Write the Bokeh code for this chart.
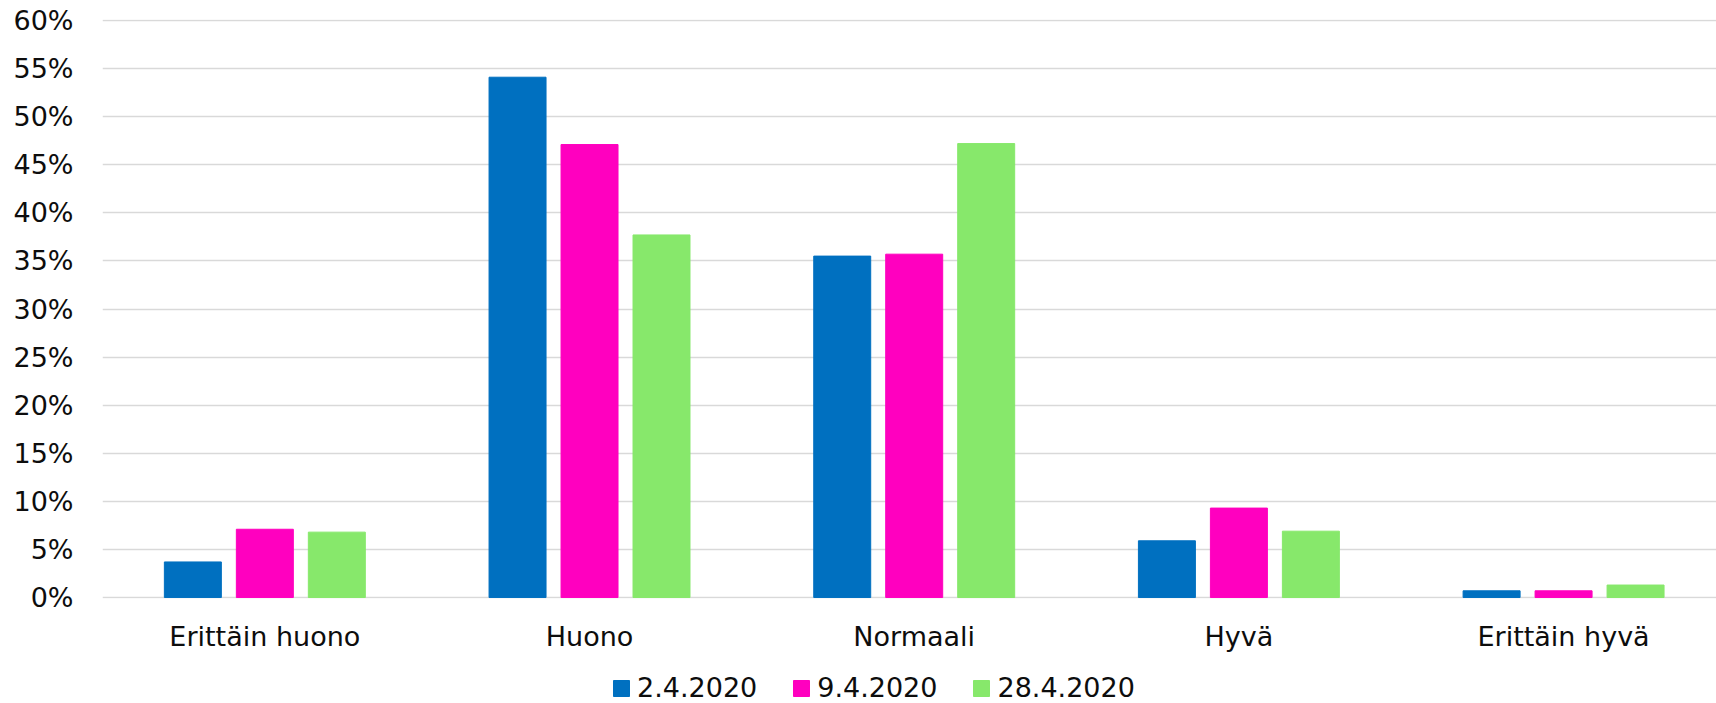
from bokeh.plotting import figure
from bokeh.layouts import column
from bokeh.models import Range1d, FixedTicker, PrintfTickFormatter, Legend, LegendItem, ColumnDataSource
from bokeh.embed import file_html
from bokeh.resources import INLINE

categories = ["Erittäin huono", "Huono", "Normaali", "Hyvä", "Erittäin hyvä"]
series_names = ["2.4.2020", "9.4.2020", "28.4.2020"]
s_0204 = [3.7, 54.1, 35.5, 5.9, 0.7]
s_0904 = [7.1, 47.1, 35.7, 9.3, 0.7]
s_2804 = [6.8, 37.7, 47.2, 6.9, 1.3]
colors = ["#0070C0", "#FF00BF", "#87E86B"]
y_ticks = [0, 5, 10, 15, 20, 25, 30, 35, 40, 45, 50, 55, 60]

FONT = "DejaVu Sans"
FS = "27px"
W = 1716
H_MAIN = 660
H_LEG = 43

p = figure(width=W, height=H_MAIN, output_backend="svg", toolbar_location=None,
           x_range=Range1d(-0.5, 4.471), y_range=Range1d(-0.1, 60.1),
           min_border_left=102, min_border_right=0, min_border_top=19, min_border_bottom=62)
p.outline_line_color = None
p.background_fill_color = "white"
p.border_fill_color = "white"

xs = list(range(len(categories)))
offsets = [-0.2217, 0.0, 0.2217]
for vals, off, col in zip([s_0204, s_0904, s_2804], offsets, colors):
    src = ColumnDataSource(dict(x=[i + off for i in xs], top=vals))
    p.vbar(x="x", top="top", bottom=0, width=0.1755, source=src,
           fill_color=col, line_color=col, line_width=1)

p.xgrid.grid_line_color = None
p.ygrid.grid_line_color = "#d9d9d9"
p.ygrid.grid_line_width = 1.6
p.ygrid.ticker = FixedTicker(ticks=y_ticks)

p.yaxis.ticker = FixedTicker(ticks=y_ticks)
p.yaxis.formatter = PrintfTickFormatter(format="%d%%")
p.yaxis.axis_line_color = None
p.yaxis.major_tick_line_color = None
p.yaxis.minor_tick_line_color = None
p.yaxis.major_tick_out = 0
p.yaxis.major_label_standoff = 29
p.yaxis.major_label_text_font = FONT
p.yaxis.major_label_text_font_size = FS
p.yaxis.major_label_text_color = "#0d0d0d"

p.xaxis.ticker = FixedTicker(ticks=xs)
p.xaxis.major_label_overrides = {i: c for i, c in zip(xs, categories)}
p.xaxis.axis_line_color = None
p.xaxis.major_tick_line_color = None
p.xaxis.minor_tick_line_color = None
p.xaxis.major_tick_out = 0
p.xaxis.major_label_standoff = 22
p.xaxis.major_label_text_font = FONT
p.xaxis.major_label_text_font_size = FS
p.xaxis.major_label_text_color = "#0d0d0d"

# legend strip below the chart (proxy renderers lie outside the strip's range)
p2 = figure(width=W, height=H_LEG, output_backend="svg", toolbar_location=None,
            x_range=Range1d(0, 1), y_range=Range1d(0, 1),
            x_axis_type=None, y_axis_type=None,
            min_border_left=0, min_border_right=0, min_border_top=0, min_border_bottom=0)
p2.outline_line_color = None
p2.grid.visible = False
leg_renderers = []
for col in colors:
    r = p2.vbar(x=[5], top=[0], bottom=0, width=0.1, fill_color=col, line_color=col)
    leg_renderers.append(r)

legend = Legend(items=[LegendItem(label=n, renderers=[r]) for n, r in zip(series_names, leg_renderers)],
                orientation="horizontal", location=(509, 0),
                glyph_width=20, glyph_height=20, label_standoff=6, spacing=34,
                padding=0, margin=0, border_line_color=None, background_fill_alpha=0,
                label_text_font=FONT, label_text_font_size=FS, label_text_color="#0d0d0d")
p2.add_layout(legend, "center")

layout = column(p, p2, spacing=0)
open("out.html", "w").write(file_html(layout, INLINE))
